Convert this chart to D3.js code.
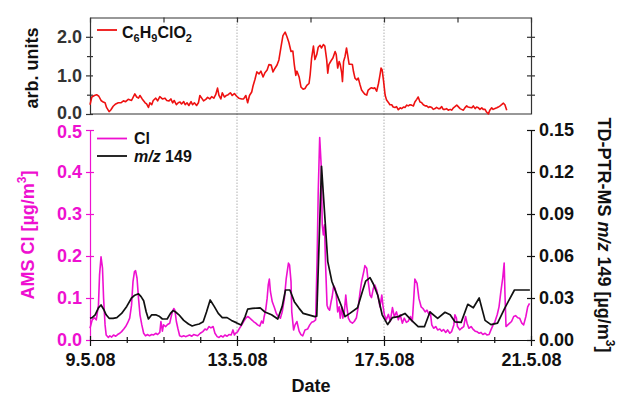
<!DOCTYPE html>
<html><head><meta charset="utf-8">
<script src="https://cdn.jsdelivr.net/npm/d3@7"></script>
<style>
body{margin:0;background:#fff}
text{font-family:Arial,"Liberation Sans",sans-serif;font-weight:bold}
</style>
</head><body>
<svg id="c" width="622" height="397"></svg>
<script>
// ---- data (time in days after 9.5.08 00:00) ----
const xTickLabels = ["9.5.08","13.5.08","17.5.08","21.5.08"];
const xTickDays = [0,4,8,12];

const chlT = [0.00,0.05,0.12,0.18,0.24,0.30,0.36,0.41,0.45,0.52,0.57,0.63,0.70,0.77,0.84,0.91,0.97,1.04,1.13,1.22,1.27,1.32,1.36,1.42,1.50,1.54,1.59,1.63,1.68,1.72,1.79,1.84,1.90,1.97,2.04,2.09,2.15,2.20,2.25,2.29,2.35,2.40,2.45,2.49,2.55,2.59,2.64,2.69,2.75,2.79,2.84,2.90,2.95,2.99,3.04,3.09,3.15,3.20,3.26,3.31,3.37,3.42,3.47,3.51,3.56,3.60,3.66,3.71,3.76,3.82,3.87,3.93,3.99,4.05,4.13,4.18,4.24,4.29,4.34,4.40,4.44,4.49,4.54,4.60,4.65,4.71,4.76,4.82,4.87,4.93,4.98,5.03,5.09,5.14,5.20,5.25,5.31,5.36,5.41,5.47,5.52,5.56,5.60,5.63,5.69,5.74,5.80,5.85,5.90,5.96,
5.99,6.03,6.08,6.12,6.17,6.21,6.26,6.30,6.35,6.39,6.44,6.47,6.50,6.56,6.61,6.67,6.70,6.74,6.78,6.81,6.85,6.87,6.90,6.94,6.98,7.01,7.05,7.10,7.14,7.17,7.21,7.26,7.30,7.35,7.39,7.44,7.48,7.53,7.57,7.62,7.66,7.71,7.75,7.80,7.85,7.89,7.92,7.95,7.99,8.03,8.07,8.12,8.16,8.21,8.25,8.30,8.34,8.39,8.44,8.48,8.53,8.57,8.62,8.66,8.71,8.75,8.80,8.84,8.89,8.93,8.98,9.02,9.07,9.12,9.16,9.21,9.25,9.30,9.34,9.39,9.43,9.48,9.52,9.57,9.61,9.66,9.70,9.75,9.80,9.84,9.89,9.93,9.98,10.02,10.07,10.11,10.16,10.20,10.25,10.29,10.34,10.39,10.43,10.48,10.52,10.57,10.61,10.66,10.70,10.75,10.79,10.84,10.88,10.93,10.97,11.02,11.07,11.11,11.16,11.20,11.25,11.29,11.34];
const chlV = [0.24,0.44,0.48,0.50,0.46,0.35,0.31,0.29,0.17,0.06,0.11,0.20,0.26,0.29,0.29,0.34,0.32,0.38,0.35,0.52,0.44,0.41,0.48,0.39,0.29,0.26,0.17,0.29,0.24,0.35,0.41,0.34,0.45,0.39,0.41,0.35,0.34,0.39,0.29,0.35,0.24,0.29,0.31,0.26,0.32,0.24,0.29,0.22,0.32,0.24,0.29,0.22,0.29,0.48,0.41,0.34,0.38,0.43,0.39,0.45,0.41,0.50,0.67,0.48,0.39,0.55,0.44,0.48,0.50,0.55,0.48,0.53,0.46,0.41,0.39,0.39,0.48,0.29,0.48,0.57,0.74,0.90,1.09,1.04,1.11,0.96,1.07,1.14,1.28,1.27,1.09,1.18,1.27,1.40,1.75,2.03,2.12,2.00,1.86,1.62,1.63,1.27,1.00,1.11,0.96,0.70,0.64,0.66,0.74,0.79,
1.01,1.45,1.76,1.41,1.54,1.73,1.78,1.71,1.80,1.76,1.41,1.06,1.28,1.38,1.45,1.62,1.54,1.19,1.36,1.28,1.06,0.84,1.36,1.49,1.71,1.54,1.29,1.29,1.28,1.10,0.93,0.88,0.93,0.75,0.62,0.56,0.51,0.49,0.62,0.66,0.68,0.66,0.68,0.59,0.79,1.01,1.19,1.14,0.84,0.49,0.36,0.30,0.24,0.24,0.18,0.17,0.19,0.11,0.16,0.14,0.18,0.17,0.23,0.21,0.24,0.23,0.21,0.31,0.38,0.44,0.31,0.30,0.24,0.21,0.21,0.17,0.19,0.17,0.12,0.14,0.17,0.14,0.14,0.19,0.12,0.12,0.14,0.10,0.12,0.10,0.16,0.19,0.23,0.19,0.14,0.12,0.10,0.16,0.21,0.18,0.17,0.16,0.21,0.14,0.18,0.16,0.12,0.16,0.12,0.12,0.05,0.00,0.10,0.16,0.12,0.14,0.16,0.18,0.21,0.24,0.28,0.24,0.10];

const clT = [0.00,0.06,0.12,0.17,0.23,0.26,0.30,0.34,0.37,0.41,0.44,0.50,0.54,0.59,0.64,0.70,0.75,0.81,0.86,0.92,0.97,1.02,1.08,1.13,1.17,1.21,1.24,1.28,1.32,1.36,1.41,1.46,1.51,1.57,1.62,1.68,1.73,1.79,1.84,1.90,1.93,1.97,2.00,2.06,2.11,2.17,2.20,2.24,2.28,2.31,2.35,2.39,2.44,2.49,2.55,2.60,2.66,2.71,2.77,2.82,
2.86,2.93,3.00,3.07,3.13,3.18,3.24,3.29,3.35,3.40,3.46,3.51,3.56,3.62,3.67,3.73,3.78,3.84,3.89,3.93,3.96,4.02,4.07,4.13,4.18,4.24,4.29,4.34,4.40,4.45,4.51,4.56,4.62,4.67,4.71,4.74,4.78,4.82,4.85,4.88,4.91,4.96,5.02,5.07,5.12,5.18,5.23,5.29,5.34,5.40,5.43,5.47,5.49,5.54,5.58,5.63,5.69,5.74,5.79,
5.85,5.92,5.98,6.03,6.09,6.14,6.18,6.21,6.25,6.29,6.32,6.35,6.38,6.41,6.45,6.48,6.52,6.56,6.59,6.63,6.67,6.70,6.74,6.78,6.81,6.85,6.88,6.92,6.96,6.99,7.03,7.08,7.14,7.19,7.25,7.30,7.35,7.39,7.45,7.48,7.53,7.57,7.62,7.66,7.71,7.75,7.80,7.85,7.89,7.94,7.97,8.01,8.06,8.12,8.17,8.23,8.28,8.34,8.39,8.44,8.50,8.55,8.61,8.66,8.72,8.77,8.81,8.84,
8.90,8.95,9.01,9.06,9.12,9.17,9.23,9.26,9.30,9.35,9.41,9.46,9.52,9.57,9.62,9.68,9.73,9.79,9.84,9.90,9.93,9.97,10.00,10.06,10.11,10.17,10.22,10.26,10.31,10.37,10.42,10.48,10.53,10.59,10.64,10.69,10.75,10.80,10.86,10.91,10.97,11.02,11.08,11.13,11.18,11.23,11.27,11.29,11.32,11.37,11.42,11.47,11.53,11.58,11.64,11.69,11.75,11.80,11.86,11.91,11.96];
const clV = [0.028,0.048,0.053,0.048,0.083,0.155,0.198,0.171,0.099,0.036,0.012,0.006,0.010,0.007,0.012,0.009,0.013,0.016,0.020,0.026,0.032,0.040,0.052,0.083,0.139,0.163,0.165,0.147,0.099,0.060,0.036,0.016,0.010,0.013,0.010,0.013,0.012,0.016,0.013,0.018,0.044,0.021,0.036,0.032,0.037,0.040,0.052,0.067,0.075,0.071,0.044,0.028,0.010,0.008,0.010,0.008,0.010,0.012,0.009,0.013,
0.012,0.010,0.016,0.020,0.026,0.024,0.032,0.029,0.032,0.016,0.008,0.006,0.010,0.007,0.012,0.009,0.013,0.012,0.024,0.012,0.016,0.020,0.028,0.036,0.044,0.052,0.056,0.053,0.048,0.044,0.040,0.036,0.033,0.045,0.040,0.056,0.071,0.099,0.131,0.145,0.115,0.091,0.077,0.063,0.056,0.052,0.067,0.099,0.147,0.183,0.179,0.139,0.067,0.024,0.036,0.044,0.021,0.013,0.010,
0.024,0.026,0.036,0.042,0.044,0.048,0.194,0.353,0.482,0.417,0.274,0.250,0.274,0.179,0.083,0.075,0.071,0.091,0.103,0.129,0.123,0.107,0.067,0.079,0.052,0.079,0.052,0.067,0.107,0.079,0.052,0.044,0.040,0.044,0.053,0.079,0.115,0.139,0.163,0.177,0.171,0.139,0.107,0.101,0.123,0.131,0.119,0.099,0.079,0.107,0.083,0.060,0.048,0.061,0.044,0.077,0.056,0.067,0.048,0.060,0.040,0.052,0.042,0.045,0.056,0.044,0.099,0.145,
0.135,0.099,0.079,0.075,0.067,0.071,0.060,0.067,0.036,0.028,0.032,0.024,0.026,0.021,0.025,0.018,0.024,0.016,0.020,0.036,0.060,0.052,0.032,0.024,0.028,0.032,0.056,0.040,0.028,0.032,0.026,0.021,0.020,0.016,0.018,0.013,0.016,0.012,0.013,0.024,0.036,0.044,0.060,0.079,0.115,0.147,0.183,0.115,0.032,0.036,0.040,0.044,0.056,0.058,0.053,0.052,0.040,0.036,0.056,0.079,0.087];

const mzT = [0.00,0.06,0.14,0.23,0.30,0.37,0.44,0.52,0.63,0.73,0.86,1.00,1.13,1.22,1.32,1.39,1.46,1.53,1.59,1.68,1.79,1.88,1.97,2.10,2.19,2.26,2.33,2.42,2.55,2.68,2.78,
2.86,2.97,3.08,3.17,3.27,3.38,3.49,3.60,3.73,3.85,3.98,4.11,4.22,4.29,4.42,4.63,4.76,4.94,5.11,5.23,5.32,5.44,5.56,5.69,5.80,
6.12,6.17,6.30,6.47,6.58,6.71,6.83,6.94,7.07,7.28,7.41,7.50,7.62,7.71,7.83,7.95,8.10,8.23,8.39,8.57,8.75,8.93,
9.10,9.25,9.46,9.66,9.80,9.93,10.10,10.28,10.43,10.59,10.75,10.91,11.09,11.29,11.55,11.97];
const mzV = [0.0155,0.016,0.018,0.023,0.025,0.022,0.018,0.0155,0.0155,0.016,0.019,0.024,0.030,0.032,0.033,0.031,0.028,0.020,0.015,0.018,0.018,0.017,0.015,0.015,0.019,0.021,0.020,0.018,0.014,0.0114,0.010,
0.0107,0.0114,0.013,0.020,0.0286,0.024,0.019,0.016,0.016,0.014,0.0124,0.0107,0.0167,0.022,0.0226,0.023,0.020,0.018,0.015,0.024,0.0357,0.0357,0.0274,0.0226,0.019,
0.0167,0.017,0.124,0.056,0.042,0.033,0.025,0.0167,0.019,0.023,0.0345,0.042,0.0445,0.040,0.032,0.018,0.011,0.016,0.0167,0.019,0.014,0.0095,
0.0095,0.020,0.0155,0.0198,0.018,0.013,0.0126,0.0255,0.023,0.030,0.014,0.011,0.012,0.023,0.0357,0.0357];

// ---- drawing ----
const MAG = "#ee10d0", RED = "#ee1111";
const svg = d3.select("#c");
const x = d3.scaleLinear().domain([0,12]).range([90,531]);
const yTop = d3.scaleLinear().domain([0,2.5]).range([114,17.5]);
const yCl = d3.scaleLinear().domain([0,0.5]).range([340,130]);
const yMz = d3.scaleLinear().domain([0,0.15]).range([340,130]);

// dotted vertical guides
svg.selectAll("line.guide").data([4,8]).enter().append("line")
  .attr("x1",d=>x(d)).attr("x2",d=>x(d)).attr("y1",17.5).attr("y2",340)
  .attr("stroke","#b0b0b0").attr("stroke-width",1).attr("stroke-dasharray","1.5,1.5");

function styleAxis(g, color, fs){
  g.select(".domain").attr("stroke",color).attr("stroke-width",1.2);
  g.selectAll(".tick line").attr("stroke",color).attr("stroke-width",1.2);
  g.selectAll(".tick text").attr("fill",color).style("font-size",(fs||18)+"px")
    .style("font-family","Arial, 'Liberation Sans', sans-serif").style("font-weight","bold");
}
const AX = "#333";

// ---- top panel ----
const gTL = svg.append("g").attr("transform","translate(90,0)")
  .call(d3.axisLeft(yTop).tickValues([0,1,2]).tickFormat(d3.format(".1f")).tickSizeInner(4).tickSizeOuter(0).tickPadding(4));
styleAxis(gTL, AX); gTL.selectAll(".tick line").attr("x1",3);
gTL.selectAll(".tick text").filter(d=>d===0).attr("dy","0.25em");
const gTLm = svg.append("g").attr("transform","translate(90,0)")
  .call(d3.axisLeft(yTop).tickValues([0.5,1.5]).tickFormat("").tickSizeInner(3).tickSizeOuter(0));
styleAxis(gTLm, AX); gTLm.selectAll(".tick line").attr("x1",3); gTLm.select(".domain").remove();
const gTR = svg.append("g").attr("transform","translate(531,0)")
  .call(d3.axisRight(yTop).tickValues([0.5,1,1.5,2]).tickFormat("").tickSizeInner(4).tickSizeOuter(0));
styleAxis(gTR, AX); gTR.selectAll(".tick line").attr("x1",-4);
const gTT = svg.append("g").attr("transform","translate(0,17.5)")
  .call(d3.axisTop(x).tickValues([0,2,4,6,8,10,12]).tickFormat("").tickSizeInner(-5).tickSizeOuter(0));
styleAxis(gTT, AX);
svg.append("line").attr("x1",90).attr("x2",531).attr("y1",114).attr("y2",114).attr("stroke",AX).attr("stroke-width",1.2);

svg.append("path").datum(d3.zip(chlT,chlV))
  .attr("fill","none").attr("stroke",RED).attr("stroke-width",1.6).attr("stroke-linejoin","round")
  .attr("d", d3.line().x(d=>x(d[0])).y(d=>yTop(d[1])));

// ---- bottom panel ----
const gBL = svg.append("g").attr("transform","translate(90,0)")
  .call(d3.axisLeft(yCl).tickValues([0,0.1,0.2,0.3,0.4,0.5]).tickFormat(d3.format(".1f")).tickSizeInner(4).tickSizeOuter(0).tickPadding(4));
styleAxis(gBL, MAG); gBL.selectAll(".tick line").attr("x1",4);
gBL.selectAll(".tick text").filter(d=>d===0.5).attr("dy","0.4em");
const gBR = svg.append("g").attr("transform","translate(531,0)")
  .call(d3.axisRight(yMz).tickValues([0,0.03,0.06,0.09,0.12,0.15]).tickFormat(d3.format(".2f")).tickSizeInner(4).tickSizeOuter(0).tickPadding(4));
styleAxis(gBR, "#111"); gBR.selectAll(".tick line").attr("x1",-4);
const gBB = svg.append("g").attr("transform","translate(0,340)")
  .call(d3.axisBottom(x).tickValues(xTickDays).tickFormat((d,i)=>xTickLabels[i]).tickSizeInner(6).tickSizeOuter(0).tickPadding(7));
styleAxis(gBB, "#111"); gBB.selectAll(".tick line").attr("y1",-4);
const gBBm = svg.append("g").attr("transform","translate(0,340)")
  .call(d3.axisBottom(x).tickValues(d3.range(1,12).filter(d=>d%4!==0)).tickFormat("").tickSizeInner(3).tickSizeOuter(0));
styleAxis(gBBm, "#111"); gBBm.selectAll(".tick line").attr("y1",-3); gBBm.select(".domain").remove();

svg.append("path").datum(d3.zip(clT,clV))
  .attr("fill","none").attr("stroke",MAG).attr("stroke-width",1.6).attr("stroke-linejoin","round")
  .attr("d", d3.line().x(d=>x(d[0])).y(d=>yCl(d[1])));
svg.append("path").datum(d3.zip(mzT,mzV))
  .attr("fill","none").attr("stroke","#111").attr("stroke-width",1.7).attr("stroke-linejoin","round")
  .attr("d", d3.line().x(d=>x(d[0])).y(d=>yMz(d[1])));

// ---- titles ----
svg.append("text").attr("transform","translate(38,68) rotate(-90)").attr("text-anchor","middle")
  .style("font-size","18px").attr("fill","#111").text("arb. units");
const tl = svg.append("text").attr("transform","translate(34,235) rotate(-90)").attr("text-anchor","middle")
  .style("font-size","18px").attr("fill",MAG);
tl.append("tspan").text("AMS Cl [µg/m");
tl.append("tspan").attr("dy",-8).style("font-size","12px").text("3");
tl.append("tspan").attr("dy",8).text("]");
const tr = svg.append("text").attr("transform","translate(598,235) rotate(90)").attr("text-anchor","middle")
  .style("font-size","18px").attr("fill","#111");
tr.append("tspan").text("TD-PTR-MS ");
tr.append("tspan").style("font-style","italic").text("m/z");
tr.append("tspan").text(" 149 [µg/m");
tr.append("tspan").attr("dy",-8).style("font-size","12px").text("3");
tr.append("tspan").attr("dy",8).text("]");
svg.append("text").attr("x",311).attr("y",392).attr("text-anchor","middle")
  .style("font-size","18px").attr("fill","#111").text("Date");

// ---- legends ----
svg.append("line").attr("x1",97).attr("x2",117).attr("y1",30).attr("y2",30).attr("stroke",RED).attr("stroke-width",1.8);
const lt = svg.append("text").attr("x",122).attr("y",38).style("font-size","16px").attr("fill","#111");
[["C",0],["6",1],["H",0],["9",1],["ClO",0],["2",1]].forEach(([s,sub],i,arr)=>{
  const prevSub = i>0 ? arr[i-1][1] : 0;
  lt.append("tspan").attr("dy", sub ? 4 : (prevSub ? -4 : 0)).style("font-size", sub?"11px":"16px").text(s);
});
svg.append("line").attr("x1",97).attr("x2",127).attr("y1",138.5).attr("y2",138.5).attr("stroke",MAG).attr("stroke-width",1.8);
svg.append("text").attr("x",134).attr("y",144).style("font-size","16px").attr("fill","#111").text("Cl");
svg.append("line").attr("x1",97).attr("x2",127).attr("y1",156).attr("y2",156).attr("stroke","#111").attr("stroke-width",1.8);
const lm = svg.append("text").attr("x",134).attr("y",162).style("font-size","16px").attr("fill","#111");
lm.append("tspan").style("font-style","italic").text("m/z");
lm.append("tspan").text(" 149");
</script>
</body></html>
